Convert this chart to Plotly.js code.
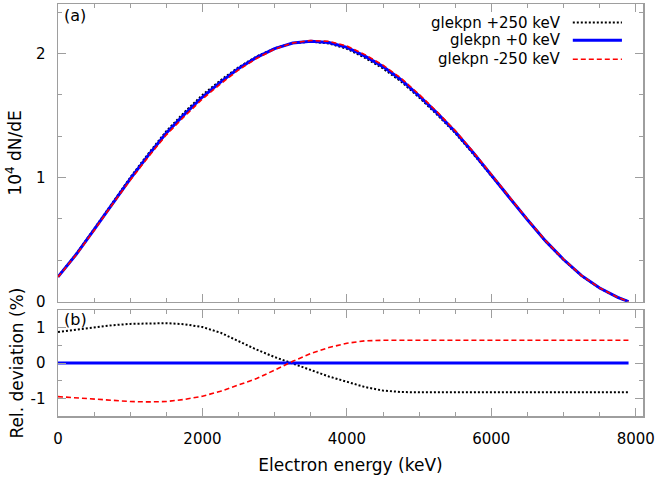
<!DOCTYPE html>
<html>
<head>
<meta charset="utf-8">
<script src="https://cdn.plot.ly/plotly-3.0.1.min.js"></script>
<style>html,body{margin:0;padding:0;background:#fff;}#chart{width:655px;height:482px;}</style>
</head>
<body>
<div id="chart"></div>
<script>
// Electron energy grid (keV)
const energy = [0,250,500,750,1000,1250,1500,1750,2000,2250,2500,2750,3000,3250,3500,3750,4000,4250,4500,4750,5000,5250,5500,5750,6000,6250,6500,6750,7000,7250,7500,7750,7900];

// Spectra, 10^4 dN/dE
const specPlus250 = [0.202,0.384,0.586,0.798,1.001,1.193,1.375,1.527,1.667,1.785,1.890,1.977,2.043,2.085,2.096,2.082,2.039,1.966,1.880,1.775,1.646,1.507,1.359,1.190,1.012,0.833,0.655,0.486,0.337,0.208,0.109,0.035,0.0];
const specPlus0   = [0.200,0.380,0.580,0.790,0.990,1.180,1.360,1.510,1.650,1.770,1.880,1.970,2.040,2.085,2.100,2.090,2.050,1.980,1.895,1.790,1.660,1.520,1.370,1.200,1.020,0.840,0.660,0.490,0.340,0.210,0.110,0.035,0.0];
const specMinus250= [0.198,0.376,0.574,0.782,0.979,1.167,1.345,1.494,1.634,1.756,1.868,1.961,2.036,2.086,2.106,2.099,2.061,1.992,1.907,1.802,1.671,1.530,1.379,1.208,1.027,0.845,0.664,0.493,0.342,0.211,0.111,0.035,0.0];

// Relative deviation (%)
const devPlus250 = [0.88,0.95,1.01,1.07,1.11,1.13,1.13,1.10,1.02,0.86,0.62,0.38,0.17,-0.02,-0.20,-0.38,-0.53,-0.68,-0.78,-0.82,-0.83,-0.83,-0.83,-0.83,-0.83,-0.83,-0.83,-0.83,-0.83,-0.83,-0.83,-0.83,-0.83];
const devPlus0   = [0,0,0,0,0,0,0,0,0,0,0,0,0,0,0,0,0,0,0,0,0,0,0,0,0,0,0,0,0,0,0,0,0];
const devMinus250= [-0.95,-0.99,-1.03,-1.06,-1.09,-1.10,-1.09,-1.03,-0.94,-0.80,-0.63,-0.44,-0.20,0.05,0.27,0.44,0.56,0.63,0.645,0.645,0.645,0.645,0.645,0.645,0.645,0.645,0.645,0.645,0.645,0.645,0.645,0.645,0.645];

// Tick labels
const xTickVals = [0,2000,4000,6000,8000];
const xTickText = ['0','2000','4000','6000','8000'];
const yTopTickVals = [0,1,2];
const yTopTickText = ['0','1','2'];
const yBotTickVals = [-1,0,1];
const yBotTickText = ['-1','0','1'];

const seriesNames = ['glekpn +250 keV','glekpn +0 keV','glekpn -250 keV'];
const panelLabels = ['(a)','(b)'];
const xTitle = 'Electron energy (keV)';
const yTopTitle = '10<sup>4</sup> dN/dE';
const yBotTitle = 'Rel. deviation (%)';

const styles = [
  {color:'#000000', width:2, dash:'2px,2px'},
  {color:'#0000ff', width:3, dash:'solid'},
  {color:'#ff0000', width:1.6, dash:'5px,3px'}
];
const specs = [specPlus250, specPlus0, specMinus250];
const devs = [devPlus250, devPlus0, devMinus250];

const traces = [];
for (let i = 0; i < 3; i++) {
  traces.push({x: energy, y: specs[i], xaxis:'x2', yaxis:'y2', mode:'lines', line: styles[i], showlegend:false, hoverinfo:'skip'});
}
for (let i = 0; i < 3; i++) {
  traces.push({x: energy, y: devs[i], xaxis:'x', yaxis:'y', mode:'lines', line: styles[i], showlegend:false, hoverinfo:'skip'});
}

const FONT = 'DejaVu Sans, sans-serif';
const frame = '#9e9e9e';
const TITLE_FONT = {family:FONT, size:17, color:'#000'};
const common = {
  showline:true, linecolor:frame, linewidth:1.5, mirror:'allticks',
  ticks:'inside', ticklen:8, tickcolor:frame, tickwidth:1,
  showgrid:false, zeroline:false, tickfont:{family:FONT, size:15, color:'#000'}
};

// legend drawn as text + sample lines in paper space
const legY = [0.955, 0.912, 0.866];
const annotations = [];
const shapes = [];
for (let i = 0; i < 3; i++) {
  annotations.push({xref:'paper', yref:'paper', x:0.864, y:legY[i], xanchor:'right', yanchor:'middle', showarrow:false, text:seriesNames[i], font:{family:FONT, size:15, color:'#000'}});
  shapes.push({type:'line', xref:'paper', yref:'paper', x0:0.880, x1:0.964, y0:legY[i], y1:legY[i], line: styles[i]});
}
annotations.push({xref:'paper', yref:'paper', x:0.006, y:1.0, xanchor:'left', yanchor:'top', showarrow:false, text:panelLabels[0], font:{family:FONT, size:16, color:'#000'}});
annotations.push({xref:'paper', yref:'paper', x:0.006, y:0.262, xanchor:'left', yanchor:'top', showarrow:false, text:panelLabels[1], font:{family:FONT, size:16, color:'#000'}});

const layout = {
  width:655, height:482,
  margin:{l:58, r:12, t:4, b:66},
  paper_bgcolor:'#fff', plot_bgcolor:'#fff',
  font:{family:FONT, size:15, color:'#000'},
  showlegend:false,
  xaxis: Object.assign({}, common, {
    domain:[0,1], anchor:'y', range:[0,8100], tickvals:xTickVals, ticktext:xTickText,
    ticklabelstandoff:8,
    minor:{dtick:500, tick0:0, ticks:'inside', ticklen:4, tickcolor:frame},
    title:{text:xTitle, font:TITLE_FONT, standoff:12}
  }),
  yaxis: Object.assign({}, common, {
    domain:[0,0.257], anchor:'x', range:[-1.5,1.5], tickvals:yBotTickVals, ticktext:yBotTickText,
    ticklabelstandoff:8,
    minor:{dtick:0.5, tick0:0, ticks:'inside', ticklen:4, tickcolor:frame},
    title:{text:yBotTitle, font:TITLE_FONT, standoff:2}
  }),
  xaxis2: Object.assign({}, common, {
    domain:[0,1], anchor:'y2', range:[0,8100], tickvals:xTickVals, matches:'x',
    showticklabels:false,
    minor:{dtick:500, tick0:0, ticks:'inside', ticklen:4, tickcolor:frame}
  }),
  yaxis2: Object.assign({}, common, {
    domain:[0.2775,1], anchor:'x2', range:[0,2.4], tickvals:yTopTickVals, ticktext:yTopTickText,
    ticklabelstandoff:8,
    minor:{tickvals:[0.3333,0.6667,1.3333,1.6667,2.3333], ticks:'inside', ticklen:4, tickcolor:frame},
    title:{text:yTopTitle, font:TITLE_FONT, standoff:10}
  }),
  annotations: annotations,
  shapes: shapes
};

Plotly.newPlot('chart', traces, layout, {displayModeBar:false, staticPlot:true});
</script>
</body>
</html>
